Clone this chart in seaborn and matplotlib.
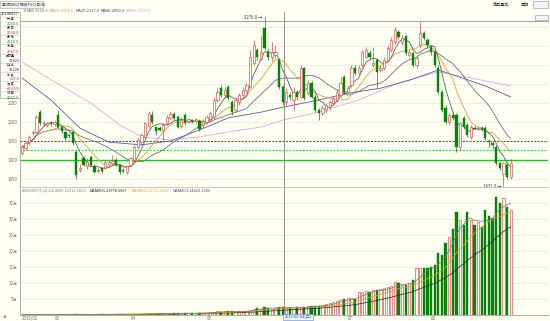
import numpy as np
import pandas as pd
import matplotlib
matplotlib.use("Agg")
import matplotlib.pyplot as plt
import seaborn as sns
from matplotlib.patches import Rectangle
from matplotlib.lines import Line2D

sns.set_style("white")
plt.rcParams['font.family'] = ['Noto Sans CJK SC', 'DejaVu Sans']

# ---------------- data ----------------
opens = [1918, 1932, 1947, 1970, 1974, 2026, 1995, 1992, 1997, 1995,
         2018, 1987, 1974, 1966, 1974, 1921, 1874, 1905, 1884, 1908,
         1884, 1870, 1879, 1879, 1890, 1892, 1900, 1887, 1874, 1868,
         1887, 1900, 1934, 1947, 1961, 1990, 2018, 1987, 1984, 1979,
         1997, 2011, 2021, 2013, 1990, 2018, 2003, 2005, 2003, 2003,
         1992, 2000, 2008, 2013, 2058, 2089, 2071, 2092, 2053, 2032,
         2053, 2071, 2084, 2092, 2155, 2189, 2168, 2247, 2184, 2171,
         2176, 2163, 2092, 2053, 2071, 2058, 2079, 2066, 2142, 2076,
         2103, 2066, 2032, 2024, 2032, 2039, 2050, 2058, 2071, 2118,
         2079, 2097, 2142, 2129, 2150, 2171, 2182, 2150, 2163, 2137,
         2142, 2163, 2189, 2210, 2237, 2210, 2226, 2176, 2182, 2150,
         2203, 2234, 2216, 2197, 2184, 2142, 2079, 2037, 2000, 2018,
         2018, 1934, 2011, 1992, 1961, 1984, 1982, 1984, 1984, 1950,
         1945, 1934, 1892, 1863, 1887, 1855]
highs = [1940, 1950, 1966, 1980, 2018, 2032, 2003, 2000, 2003, 2005,
         2032, 1990, 1976, 1971, 1976, 1926, 1890, 1910, 1905, 1913,
         1890, 1879, 1882, 1900, 1900, 1913, 1905, 1890, 1879, 1887,
         1908, 1940, 1958, 1971, 2000, 2030, 2030, 1990, 1990, 1997,
         2018, 2030, 2026, 2018, 2013, 2024, 2011, 2008, 2011, 2008,
         2008, 2018, 2030, 2066, 2089, 2097, 2092, 2097, 2058, 2063,
         2076, 2092, 2103, 2190, 2216, 2195, 2229, 2276, 2195, 2210,
         2203, 2168, 2097, 2089, 2079, 2092, 2084, 2150, 2145, 2110,
         2108, 2071, 2037, 2045, 2050, 2058, 2068, 2087, 2118, 2124,
         2097, 2150, 2150, 2150, 2189, 2197, 2189, 2197, 2168, 2150,
         2171, 2203, 2224, 2250, 2242, 2229, 2229, 2189, 2184, 2176,
         2263, 2240, 2221, 2203, 2189, 2150, 2084, 2045, 2024, 2026,
         2024, 2000, 2016, 1997, 1992, 1990, 1990, 1990, 1990, 1955,
         1947, 1940, 1895, 1895, 1895, 1903]
lows = [1913, 1926, 1940, 1966, 1971, 1992, 1990, 1987, 1990, 1990,
        1984, 1971, 1953, 1958, 1940, 1850, 1868, 1884, 1876, 1884,
        1865, 1865, 1866, 1876, 1884, 1887, 1884, 1863, 1866, 1863,
        1884, 1897, 1930, 1940, 1955, 1985, 1995, 1966, 1976, 1950,
        1992, 2005, 2005, 1984, 1984, 1992, 1997, 1997, 1997, 1976,
        1984, 1995, 2000, 2008, 2053, 2066, 2063, 2058, 2018, 2026,
        2045, 2066, 2079, 2089, 2150, 2163, 2163, 2189, 2163, 2160,
        2168, 2087, 2045, 2045, 2058, 2032, 2058, 2063, 2058, 2071,
        2063, 2026, 2005, 2018, 2026, 2032, 2045, 2053, 2066, 2074,
        2076, 2092, 2124, 2124, 2145, 2168, 2165, 2145, 2092, 2132,
        2137, 2158, 2184, 2205, 2218, 2203, 2176, 2171, 2145, 2142,
        2195, 2216, 2195, 2176, 2145, 2074, 2026, 1995, 1992, 2005,
        1921, 1926, 1982, 1961, 1955, 1979, 1979, 1976, 1953, 1934,
        1930, 1887, 1874, 1831, 1850, 1850]
closes = [1934, 1945, 1960, 1974, 2013, 1997, 1997, 1997, 1995, 2000,
          1987, 1976, 1958, 1963, 1945, 1861, 1880, 1887, 1895, 1887,
          1868, 1874, 1870, 1895, 1895, 1897, 1887, 1868, 1870, 1884,
          1905, 1934, 1953, 1966, 1997, 2024, 2000, 1976, 1979, 1992,
          2013, 2021, 2011, 1987, 2005, 1997, 2008, 2003, 2008, 1982,
          2003, 2013, 2024, 2058, 2079, 2071, 2084, 2063, 2026, 2058,
          2071, 2084, 2097, 2171, 2203, 2171, 2184, 2195, 2171, 2184,
          2184, 2092, 2053, 2079, 2066, 2079, 2066, 2142, 2063, 2103,
          2066, 2032, 2024, 2037, 2045, 2053, 2063, 2079, 2103, 2079,
          2089, 2142, 2129, 2142, 2184, 2189, 2171, 2155, 2132, 2142,
          2163, 2195, 2216, 2242, 2224, 2221, 2181, 2184, 2150, 2168,
          2234, 2221, 2203, 2184, 2150, 2079, 2032, 2000, 2018, 2011,
          1934, 1997, 1987, 1966, 1987, 1982, 1984, 1982, 1958, 1947,
          1940, 1892, 1879, 1892, 1855, 1892]
# volume in 万
volumes = [0.05, 0.06, 0.08, 0.05, 0.1, 0.08, 0.06, 0.05, 0.07, 0.06,
           0.1, 0.09, 0.08, 0.07, 0.12, 0.2, 0.1, 0.12, 0.1, 0.13,
           0.15, 0.12, 0.18, 0.2, 0.15, 0.18, 0.22, 0.3, 0.2, 0.25,
           0.3, 0.35, 0.4, 0.35, 0.45, 0.5, 0.4, 0.45, 0.35, 0.4,
           0.5, 0.45, 0.55, 0.6, 0.5, 0.65, 0.5, 0.55, 0.6, 0.7,
           0.65, 0.7, 0.8, 1.0, 1.1, 1.0, 1.2, 1.1, 1.3, 1.0,
           1.2, 1.1, 1.3, 1.6, 2.0, 2.2, 1.9, 2.4, 2.2, 2.0,
           2.3, 2.5, 2.4, 2.2, 2.1, 2.0, 2.6, 2.4, 2.6, 2.7,
           2.8, 2.8, 2.9, 3.1, 3.3, 3.6, 4.0, 4.4, 4.7, 4.9,
           5.2, 5.2, 4.9, 7.3, 7.3, 7.5, 7.3, 7.8, 7.8, 8.0,
           8.3, 8.6, 9.0, 10.4, 9.9, 9.4, 9.4, 9.9, 10.9, 14.6,
           14.6, 14.6, 14.8, 15.0, 15.6, 19.3, 18.8, 22.4, 24.5, 27.0,
           32.2, 29.6, 28.1, 32.2, 29.6, 28.1, 29.0, 27.6, 32.9, 30.9,
           30.2, 36.8, 34.9, 36.5, 33.9, 32.8]

# long moving averages at selected bars
ma40_idx = [0, 8, 16, 24, 33, 41, 49, 57, 66, 72, 82, 90, 99, 107, 115, 121, 128, 135]
ma40_val = [2116, 2058, 1984, 1947, 1940, 1950, 1979, 2011, 2026, 2039, 2058, 2076,
            2089, 2110, 2137, 2118, 2095, 2066]
ma60_idx = [0, 10, 19, 27, 33, 41, 49, 57, 66, 72, 82, 93, 104, 115, 124, 135]
ma60_val = [2158, 2100, 2050, 1992, 1961, 1953, 1961, 1974, 1987, 2005, 2026, 2058,
            2103, 2132, 2116, 2095]

grid_levels = [1850, 1900, 1950, 2000, 2050, 2100, 2150, 2200, 2250]
price_labels = ["1850", "1900", "1950", "2000", "2050", "", "", "", ""]  # upper ones hidden by info panel
vol_ticks = [5, 10, 15, 20, 25, 30, 35]
vol_tick_labels = ["5万", "10万", "15万", "20万", "25万", "30万", "35万"]
month_pos = [0, 9, 30, 51, 90, 113]
month_labels = ["2019/02", "03", "04", "05", "07", "08"]
cross_idx = 72.4
cross_label = "2019-06-04(二)"
red_line, green_dash, green_line = 1950, 1926, 1900

ma_legend = [("MA5:2115.5", "#6a6a6a", 27), ("MA10:2161.0", "#e0a020", 50),
             ("MA20:2117.0", "#505060", 76), ("MA40:2059.2", "#30308a", 101),
             ("MA60:2006.5", "#d8a8d8", 127)]
vol_legend = [("AMOUNT(5,12,24) AMO:22312.0000", "#808080", 22),
              ("MAAMO1:23778.6667", "#202020", 90),
              ("MAAMO2:19791.0667", "#e0a020", 132),
              ("MAAMO3:14420.2500", "#7030a0", 173)]
info_rows = [("开 盘", "2040.0", "#208020"), ("最 高", "2068.0", "#d02020"),
             ("最 低", "2025.0", "#208020"), ("收 盘", "2067.0", "#d02020"),
             ("成交量", "17822", "#202080"), ("持 仓", "35226", "#202080"),
             ("涨 跌", "+13.0", "#d02020"), ("幅 度", "+0.66%", "#d02020"),
             ("结 算", "2042.5", "#208020")]

df = pd.DataFrame({"o": opens, "h": highs, "l": lows, "c": closes, "v": volumes})
df["i"] = np.arange(len(df))
up = df["c"] >= df["o"]

BG = "#fffff2"
RED = "#d84848"
GREEN = "#0a820a"
W, H = 550, 321

fig = plt.figure(figsize=(5.5, 3.21), dpi=100, facecolor=BG)


def fr(x0, y0, x1, y1):
    return [x0 / W, 1 - y1 / H, (x1 - x0) / W, (y1 - y0) / H]


ax = fig.add_axes(fr(20, 21, 548, 187), facecolor=BG)
axv = fig.add_axes(fr(20, 187, 548, 315), facecolor=BG)
xlim = (-0.55, 145.3)

# ---------------- price panel ----------------
ax.set_xlim(*xlim)
ax.set_ylim(1829, 2266)
ax.set_yticks(grid_levels)
ax.set_yticklabels(price_labels, fontsize=3.2, color="#707070")
ax.tick_params(axis="y", length=0, pad=1.5)
ax.set_xticks([])
ax.grid(axis="y", color="#ebe7d2", linewidth=0.5)
for s in ["right", "bottom"]:
    ax.spines[s].set_visible(False)
ax.spines["left"].set_color("#a0a0a0")
ax.spines["left"].set_linewidth(0.6)
ax.spines["top"].set_color("#909090")
ax.spines["top"].set_linewidth(0.6)

ax.axhline(red_line, color="#c02020", linestyle=(0, (2, 1.5)), linewidth=0.7, zorder=1)
ax.axhline(green_dash, color="#40d040", linestyle=(0, (2, 1.5)), linewidth=0.7, zorder=1)
ax.axhline(green_line, color="#30c030", linewidth=1.0, zorder=1)

# moving averages
sns.lineplot(x=ma60_idx, y=ma60_val, ax=ax, color="#dcaadc", linewidth=0.6,
             legend=False, zorder=2)
sns.lineplot(x=ma40_idx, y=ma40_val, ax=ax, color="#5a5aa8", linewidth=0.6,
             legend=False, zorder=2)
for n, col in [(20, "#707080"), (10, "#e0a040"), (5, "#606060")]:
    ma = df["c"].rolling(n, min_periods=1).mean()
    sns.lineplot(x=df["i"], y=ma, ax=ax, color=col, linewidth=0.6, legend=False, zorder=2)
ax.set_xlabel("")
ax.set_ylabel("")

bw = 0.62
for d, u in zip(df.itertuples(), up):
    col = RED if u else GREEN
    ax.vlines(d.i, d.l, d.h, color=col, linewidth=0.5, zorder=3, clip_on=False)
    lo, hi = min(d.o, d.c), max(d.o, d.c)
    ht = max(hi - lo, 1.2)
    if u:
        ax.bar(d.i, ht, bottom=lo, width=bw, facecolor=BG, edgecolor=col,
               linewidth=0.45, zorder=4)
    else:
        ax.bar(d.i, ht, bottom=lo, width=bw, facecolor=col, edgecolor=col,
               linewidth=0.3, zorder=4)

imax = int(df["h"].idxmax())
imin = int(df["l"].idxmin())
ax.annotate(f"{df['h'].max():.1f} →", (imax - 0.6, df["h"].max()), fontsize=3.1,
            ha="right", va="center", color="#404040", annotation_clip=False)
ax.annotate(f"{df['l'].min():.1f} →", (imin - 0.6, df["l"].min()), fontsize=3.1,
            ha="right", va="center", color="#404040", annotation_clip=False)

# ---------------- volume panel ----------------
axv.set_xlim(*xlim)
axv.set_ylim(0, 40)
axv.set_yticks(vol_ticks)
axv.set_yticklabels(vol_tick_labels, fontsize=3.1, color="#707070")
axv.tick_params(axis="y", length=0, pad=1.5)
axv.set_xticks(month_pos)
axv.set_xticklabels(month_labels, fontsize=3.1, color="#707070", ha="left")
axv.tick_params(axis="x", length=0, pad=1)
axv.grid(axis="y", color="#ebe7d2", linewidth=0.5)
axv.spines["right"].set_visible(False)
axv.spines["top"].set_color("#b0b0b0")
axv.spines["top"].set_linewidth(0.5)
axv.spines["left"].set_color("#a0a0a0")
axv.spines["left"].set_linewidth(0.6)
axv.spines["bottom"].set_color("#a0a0a0")
axv.spines["bottom"].set_linewidth(0.6)

for d, u in zip(df.itertuples(), up):
    if u:
        axv.bar(d.i, d.v, width=bw, facecolor=BG, edgecolor=RED, linewidth=0.45, zorder=3)
    else:
        axv.bar(d.i, d.v, width=bw, facecolor=GREEN, edgecolor=GREEN, linewidth=0.3, zorder=3)

for n, col in [(24, "#303030"), (12, "#e0a020"), (5, "#7a7a7a")]:
    vm = df["v"].rolling(n, min_periods=1).mean()
    sns.lineplot(x=df["i"], y=vm, ax=axv, color=col, linewidth=0.55, legend=False, zorder=4)
axv.set_xlabel("")
axv.set_ylabel("")

# crosshair spanning both panels
for a in (ax, axv):
    a.axvline(cross_idx, color="#808080", linewidth=0.6, zorder=5)
xc = ax.transData.transform((cross_idx, 0))[0] / fig.bbox.width
fig.add_artist(Line2D([xc, xc], [1 - 12 / H, 1 - 21 / H], transform=fig.transFigure,
                      color="#808080", linewidth=0.6))


# ---------------- texts / decorations ----------------
def ftxt(x, y, s, **kw):
    kw.setdefault("fontsize", 3.1)
    kw.setdefault("va", "center")
    fig.text(x / W, 1 - y / H, s, **kw)


# top bar
fig.add_artist(Rectangle((0, 1 - 8 / H), 43 / W, 7 / H, transform=fig.transFigure,
                         facecolor="#f4f4f4", edgecolor="#a0a0a0", linewidth=0.4))
ftxt(1.5, 4.5, "景顺(880) 现货PVC(日线)", color="#404040", fontsize=2.8)
ftxt(493, 4.5, "商品叠加", color="#303030", fontsize=3.0)
ftxt(521, 4.5, "周期", color="#303030", fontsize=3.0)
fig.add_artist(Rectangle((533 / W, 1 - 7.5 / H), 15 / W, 6 / H, transform=fig.transFigure,
                         facecolor="#f4f4f4", edgecolor="#8090b0", linewidth=0.4))
fig.add_artist(Rectangle((535 / W, 1 - 20 / H), 13 / W, 5 / H, transform=fig.transFigure,
                         facecolor="#f4f4f4", edgecolor="#8090b0", linewidth=0.4))

# MA legend
ftxt(23.5, 10.5, "X", color="#606060", fontsize=2.8)
for s, col, x0 in ma_legend:
    ftxt(x0, 10.5, s, color=col, fontsize=3.0)
# volume legend
for s, col, x0 in vol_legend:
    ftxt(x0, 190.5, s, color=col, fontsize=2.8)

# info panel
fig.add_artist(Rectangle((0, 1 - 98 / H), 20 / W, 86 / H, transform=fig.transFigure,
                         facecolor="#fffff8", edgecolor="#a0a0a0", linewidth=0.5, zorder=10))
ftxt(10, 14.3, "20190627", color="#202020", ha="center", fontsize=2.5,
     family="DejaVu Sans", zorder=11)
for k, (lab, val, col) in enumerate(info_rows):
    y0 = 19 + 9.26 * k
    ftxt(10, y0 - 0.3, lab, color="#303030", ha="center", fontsize=2.2, zorder=11)
    ftxt(19.5, y0 + 4.8, val, color=col, ha="right", fontsize=2.5,
         family="DejaVu Sans", zorder=11)
    fig.add_artist(Line2D([0, 20 / W], [1 - (y0 - 2.4) / H] * 2, transform=fig.transFigure,
                          color="#c8c8c8", linewidth=0.4, zorder=11))

# date box of crosshair
fig.add_artist(Rectangle((283 / W, 1 - 319.5 / H), 30 / W, 6 / H, transform=fig.transFigure,
                         facecolor="#eef4ff", edgecolor="#6080d0", linewidth=0.4, zorder=10))
ftxt(298, 316.5, cross_label, color="#2050c0", ha="center", fontsize=2.8, zorder=11)
ftxt(3, 317, "万", color="#707070", fontsize=2.8)

fig.savefig("out.png", dpi=100, facecolor=BG)
